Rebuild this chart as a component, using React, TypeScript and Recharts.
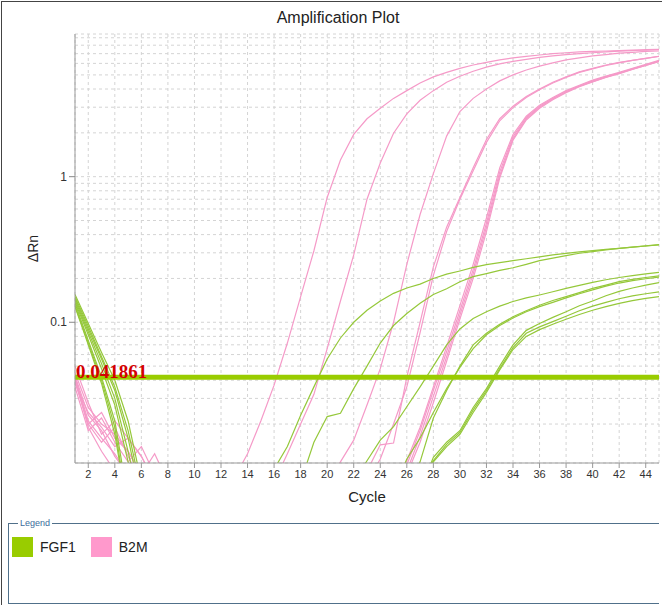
import React from "react";
import {
  LineChart,
  Line,
  XAxis,
  YAxis,
  CartesianGrid,
  ReferenceLine,
} from "recharts";

// cycle numbers on the x axis
const cycles = [
  1, 2, 3, 4, 5, 6, 7, 8, 9, 10, 11, 12, 13, 14, 15, 16, 17, 18, 19, 20, 21, 22,
  23, 24, 25, 26, 27, 28, 29, 30, 31, 32, 33, 34, 35, 36, 37, 38, 39, 40, 41,
  42, 43, 44, 45,
];

const xTicks = [2, 4, 6, 8, 10, 12, 14, 16, 18, 20, 22, 24, 26, 28, 30, 32, 34, 36, 38, 40, 42, 44];
const yGridTicks = [
  0.02, 0.03, 0.04, 0.05, 0.06, 0.07, 0.08, 0.09, 0.1, 0.2, 0.3, 0.4, 0.5, 0.6,
  0.7, 0.8, 0.9, 1, 2, 3, 4, 5, 6, 7, 8, 9,
];
const yLabelTicks = [0.1, 1];
const threshold = 0.041861;

// B2M wells (pink). null = far below the visible range
const b2m1 = [
  0.042, 0.021, 0.016, 0.0125, 0.009, null, null, null, null, null,
  null, null, 0.0085, 0.0125, 0.021, 0.037, 0.072, 0.15, 0.31, 0.72,
  1.3, 1.95, 2.5, 2.95, 3.45, 3.9, 4.4, 4.85, 5.2, 5.55,
  5.85, 6.1, 6.35, 6.55, 6.7, 6.85, 7.0, 7.1, 7.2, 7.25,
  7.3, 7.35, 7.4, 7.4, 7.45,
];
const b2m2 = [
  0.038, 0.024, 0.019, 0.014, 0.016, 0.012, 0.008, null, null, null,
  null, null, null, null, null, 0.008, 0.0125, 0.02, 0.032, 0.066,
  0.14, 0.29, 0.7, 1.24, 1.99, 2.7, 3.35, 3.9, 4.45, 4.9,
  5.3, 5.65, 5.95, 6.2, 6.4, 6.6, 6.75, 6.9, 7.0, 7.1,
  7.2, 7.28, 7.35, 7.45, 7.5,
];
const b2m3 = [
  0.045, 0.026, 0.02, 0.017, 0.013, 0.009, null, null, null, null,
  null, null, null, null, null, null, null, null, null, 0.007,
  0.011, 0.0155, 0.027, 0.048, 0.1, 0.25, 0.55, 1.05, 1.9, 2.8,
  3.45, 4.0, 4.55, 5.0, 5.4, 5.75, 6.05, 6.35, 6.55, 6.75,
  6.9, 7.05, 7.15, 7.25, 7.3,
];
const b2m4 = [
  0.036, 0.018, 0.022, 0.015, 0.011, 0.014, 0.009, null, null, null,
  null, null, null, null, null, null, null, null, null, null,
  null, 0.007, 0.0095, 0.0144, 0.0148, 0.042, 0.1, 0.24, 0.45, 0.72,
  1.15, 1.8, 2.5, 3.05, 3.55, 4.0, 4.45, 4.85, 5.25, 5.55,
  5.85, 6.1, 6.3, 6.5, 6.7,
];
const b2m5 = [
  0.04, 0.02, 0.015, 0.019, 0.012, 0.008, null, null, null, null,
  null, null, null, null, null, null, null, null, null, null,
  null, null, 0.008, 0.0115, 0.02, 0.036, 0.085, 0.21, 0.42, 0.7,
  1.1, 1.72, 2.42, 2.98, 3.5, 3.95, 4.4, 4.8, 5.2, 5.5,
  5.8, 6.05, 6.3, 6.5, 6.72,
];
const b2m6 = [
  0.043, 0.023, 0.018, 0.012, 0.009, null, null, null, null, null,
  null, null, null, null, null, null, null, null, null, null,
  null, null, null, null, 0.007, 0.0112, 0.019, 0.036, 0.068, 0.13,
  0.25, 0.52, 1.15, 1.95, 2.6, 3.1, 3.5, 3.9, 4.25, 4.6,
  4.9, 5.2, 5.55, 5.9, 6.3,
];
const b2m7 = [
  0.039, 0.02, 0.024, 0.016, 0.013, 0.009, 0.0125, 0.008, null, null,
  null, null, null, null, null, null, null, null, null, null,
  null, null, null, null, 0.007, 0.0105, 0.018, 0.034, 0.063, 0.12,
  0.23, 0.48, 1.08, 1.88, 2.55, 3.05, 3.45, 3.85, 4.2, 4.55,
  4.85, 5.15, 5.5, 5.85, 6.25,
];
const b2m8 = [
  0.041, 0.019, 0.013, 0.0095, null, null, null, null, null, null,
  null, null, null, null, null, null, null, null, null, null,
  null, null, null, null, null, 0.0095, 0.0165, 0.031, 0.058, 0.112,
  0.215, 0.45, 1.02, 1.82, 2.5, 3.0, 3.42, 3.82, 4.18, 4.5,
  4.82, 5.12, 5.48, 5.82, 6.2,
];
const b2m9 = [
  0.05, 0.028, 0.017, 0.021, 0.016, 0.012, 0.008, null, null, null,
  null, null, null, null, null, null, null, null, null, null,
  null, null, null, null, null, 0.009, 0.015, 0.028, 0.054, 0.105,
  0.2, 0.42, 0.98, 1.78, 2.45, 2.95, 3.38, 3.78, 4.15, 4.48,
  4.8, 5.1, 5.45, 5.8, 6.18,
];

// FGF1 wells (green)
const fgf1 = [
  0.155, 0.098, 0.062, 0.04, 0.021, 0.008, null, null, null, null,
  null, null, null, null, 0.007, 0.0098, 0.014, 0.023, 0.036, 0.056,
  0.078, 0.1, 0.121, 0.14, 0.158, 0.172, 0.183, 0.2, 0.214, 0.225,
  0.238, 0.249, 0.257, 0.265, 0.273, 0.281, 0.29, 0.297, 0.304, 0.311,
  0.317, 0.322, 0.328, 0.334, 0.34,
];
const fgf2 = [
  0.15, 0.094, 0.058, 0.036, 0.018, 0.007, null, null, null, null,
  null, null, null, null, null, null, null, 0.008, 0.015, 0.0225,
  0.0237, 0.035, 0.05, 0.072, 0.095, 0.115, 0.135, 0.155, 0.17, 0.19,
  0.206, 0.216, 0.227, 0.237, 0.25, 0.265, 0.276, 0.287, 0.298, 0.306,
  0.314, 0.322, 0.328, 0.335, 0.342,
];
const fgf3 = [
  0.146, 0.09, 0.056, 0.034, 0.016, 0.006, null, null, null, null,
  null, null, null, null, null, null, null, null, null, null,
  null, 0.008, 0.0112, 0.0155, 0.0192, 0.0263, 0.036, 0.05, 0.07, 0.09,
  0.106, 0.118, 0.129, 0.139, 0.147, 0.154, 0.162, 0.171, 0.179, 0.188,
  0.196, 0.203, 0.209, 0.215, 0.22,
];
const fgf4 = [
  0.142, 0.086, 0.052, 0.03, 0.013, 0.005, null, null, null, null,
  null, null, null, null, null, null, null, null, null, null,
  null, null, null, null, null, 0.007, 0.011, 0.022, 0.034, 0.05,
  0.07, 0.084, 0.097, 0.109, 0.12, 0.131, 0.141, 0.15, 0.16, 0.171,
  0.18, 0.19, 0.197, 0.203, 0.208,
];
const fgf5 = [
  0.138, 0.082, 0.048, 0.027, 0.011, 0.005, null, null, null, null,
  null, null, null, null, null, null, null, null, null, null,
  null, null, null, null, 0.007, 0.0115, 0.016, 0.024, 0.035, 0.049,
  0.066, 0.082, 0.095, 0.107, 0.118, 0.128, 0.137, 0.147, 0.157, 0.167,
  0.177, 0.186, 0.193, 0.199, 0.204,
];
const fgf6 = [
  0.135, 0.075, 0.042, 0.021, 0.006, null, null, null, null, null,
  null, null, null, null, null, null, null, null, null, null,
  null, null, null, null, null, null, 0.007, 0.0118, 0.015, 0.018,
  0.026, 0.035, 0.05, 0.07, 0.088, 0.098, 0.108, 0.118, 0.13, 0.14,
  0.152, 0.163, 0.172, 0.18, 0.187,
];
const fgf7 = [
  0.13, 0.072, 0.04, 0.019, 0.005, null, null, null, null, null,
  null, null, null, null, null, null, null, null, null, null,
  null, null, null, null, null, null, 0.008, 0.0112, 0.0145, 0.0175,
  0.025, 0.034, 0.048, 0.067, 0.084, 0.093, 0.101, 0.11, 0.12, 0.129,
  0.137, 0.145, 0.152, 0.157, 0.162,
];
const fgf8 = [
  0.128, 0.07, 0.038, 0.017, 0.005, null, null, null, null, null,
  null, null, null, null, null, null, null, null, null, null,
  null, null, null, null, null, null, 0.0075, 0.011, 0.014, 0.017,
  0.024, 0.033, 0.047, 0.065, 0.08, 0.089, 0.097, 0.105, 0.113, 0.121,
  0.128, 0.135, 0.141, 0.146, 0.15,
];

const PINK = "#f59ac8";
const GREEN = "#95c83a";

const series = [
  { key: "b2m1", color: PINK, values: b2m1 },
  { key: "b2m2", color: PINK, values: b2m2 },
  { key: "b2m3", color: PINK, values: b2m3 },
  { key: "b2m4", color: PINK, values: b2m4 },
  { key: "b2m5", color: PINK, values: b2m5 },
  { key: "b2m6", color: PINK, values: b2m6 },
  { key: "b2m7", color: PINK, values: b2m7 },
  { key: "b2m8", color: PINK, values: b2m8 },
  { key: "b2m9", color: PINK, values: b2m9 },
  { key: "fgf1", color: GREEN, values: fgf1 },
  { key: "fgf2", color: GREEN, values: fgf2 },
  { key: "fgf3", color: GREEN, values: fgf3 },
  { key: "fgf4", color: GREEN, values: fgf4 },
  { key: "fgf5", color: GREEN, values: fgf5 },
  { key: "fgf6", color: GREEN, values: fgf6 },
  { key: "fgf7", color: GREEN, values: fgf7 },
  { key: "fgf8", color: GREEN, values: fgf8 },
];

const chartData = cycles.map((cycle, i) => {
  const row: Record<string, number | null> = { cycle };
  series.forEach((s) => {
    row[s.key] = s.values[i];
  });
  return row;
});

const FONT = "'Liberation Sans', Arial, sans-serif";

function YTick(props: any) {
  const { x, y, payload } = props;
  if (!yLabelTicks.includes(payload.value)) return <g />;
  return (
    <g>
      <line x1={x + 2} x2={x + 8} y1={y} y2={y} stroke="#888" />
      <text
        x={x}
        y={y}
        dy={4}
        textAnchor="end"
        fontSize={12}
        fill="#333"
        fontFamily={FONT}
      >
        {payload.value}
      </text>
    </g>
  );
}

export default function App() {
  return (
    <div
      style={{
        position: "fixed",
        left: 0,
        top: 0,
        width: 662,
        height: 605,
        background: "#fff",
        fontFamily: FONT,
        overflow: "hidden",
      }}
    >
      <div
        style={{
          position: "absolute",
          left: 1,
          top: 1,
          width: 700,
          height: 700,
          borderLeft: "1px solid #444",
          borderTop: "1px solid #444",
        }}
      />
      <div
        style={{
          position: "absolute",
          left: 0,
          top: 9,
          width: 676,
          textAlign: "center",
          fontSize: 16,
          color: "#222",
        }}
      >
        Amplification Plot
      </div>
      <div style={{ position: "absolute", left: 0, top: 0 }}>
        <LineChart
          width={662}
          height={515}
          data={chartData}
          margin={{ top: 34, right: 3, bottom: 12, left: 5 }}
        >
          <CartesianGrid stroke="#d4d4d4" strokeDasharray="3 3" />
          <XAxis
            dataKey="cycle"
            type="number"
            domain={[1, 45]}
            ticks={xTicks}
            interval={0}
            allowDataOverflow
            height={40}
            stroke="#999"
            tickSize={5}
            tick={{ fontSize: 11, fill: "#333", fontFamily: FONT }}
            label={{
              value: "Cycle",
              position: "insideBottom",
              offset: 1,
              fontSize: 15,
              fill: "#222",
              fontFamily: FONT,
            }}
          />
          <XAxis
            xAxisId="top"
            orientation="top"
            type="number"
            domain={[1, 45]}
            height={0}
            tick={false}
            tickLine={false}
            stroke="#c8c8c8"
          />
          <YAxis
            scale="log"
            type="number"
            domain={[0.0108, 9.55]}
            allowDataOverflow
            ticks={yGridTicks}
            interval={0}
            width={70}
            stroke="#999"
            tickLine={false}
            tick={<YTick />}
            label={{
              content: (p: any) => {
                const vb = p.viewBox;
                const cx = vb.x + 28;
                const cy = vb.y + vb.height / 2;
                return (
                  <text
                    x={cx}
                    y={cy}
                    transform={`rotate(-90 ${cx} ${cy})`}
                    textAnchor="middle"
                    dominantBaseline="central"
                    fontSize={14}
                    fill="#222"
                    fontFamily={FONT}
                  >
                    ΔRn
                  </text>
                );
              },
            }}
          />
          <YAxis
            yAxisId="right"
            orientation="right"
            scale="log"
            type="number"
            domain={[0.0108, 9.55]}
            width={0}
            tick={false}
            tickLine={false}
            stroke="#c8c8c8"
          />
          {series.map((s) => (
            <Line
              key={s.key}
              dataKey={s.key}
              type="linear"
              stroke={s.color}
              strokeWidth={1.2}
              dot={false}
              isAnimationActive={false}
            />
          ))}
          <ReferenceLine
            y={threshold}
            stroke="#99cc00"
            strokeWidth={5}
            label={{
              content: (p: any) => (
                <text
                  x={p.viewBox.x + 1}
                  y={p.viewBox.y + 1}
                  fill="#d40000"
                  fontSize={19}
                  fontWeight="bold"
                  fontFamily="'Liberation Serif', 'Times New Roman', serif"
                >
                  {threshold}
                </text>
              ),
            }}
          />
        </LineChart>
      </div>
      <fieldset
        style={{
          position: "absolute",
          left: 8,
          top: 518,
          width: 651,
          height: 86,
          boxSizing: "border-box",
          margin: 0,
          padding: "9px 3px",
          border: "1px solid #50708a",
          borderRight: "none",
        }}
      >
        <legend
          style={{
            fontSize: 9,
            color: "#3d6d9c",
            padding: "0 2px",
            marginLeft: 6,
          }}
        >
          Legend
        </legend>
        <div style={{ display: "flex", alignItems: "center", fontSize: 14, color: "#222" }}>
          <span style={{ width: 21, height: 20, background: "#99cc00", display: "inline-block" }} />
          <span style={{ marginLeft: 7, marginRight: 15 }}>FGF1</span>
          <span style={{ width: 21, height: 20, background: "#ff99cc", display: "inline-block" }} />
          <span style={{ marginLeft: 7 }}>B2M</span>
        </div>
      </fieldset>
    </div>
  );
}
